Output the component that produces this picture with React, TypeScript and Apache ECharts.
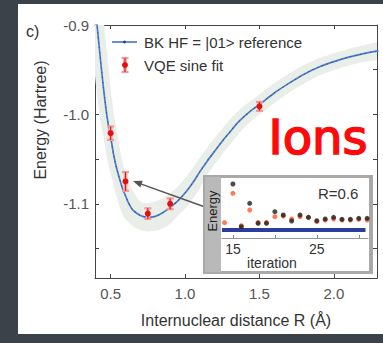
import React, { useEffect, useRef } from "react";
import * as echarts from "echarts";

// ---- main panel data ----
const curveR = [0.40, 0.41, 0.42, 0.44, 0.46, 0.48, 0.50, 0.52, 0.54, 0.56, 0.58, 0.60, 0.62, 0.65, 0.70, 0.75, 0.80, 0.85, 0.90, 0.95, 1.00, 1.05, 1.10, 1.15, 1.20, 1.25, 1.30, 1.35, 1.40, 1.45, 1.50, 1.60, 1.70, 1.80, 1.90, 2.00, 2.10, 2.20, 2.30];
const curveE = [-0.886, -0.902, -0.919, -0.952, -0.982, -1.007, -1.025, -1.045, -1.060, -1.072, -1.083, -1.091, -1.099, -1.107, -1.113, -1.115, -1.114, -1.110, -1.104, -1.097, -1.088, -1.077, -1.064, -1.052, -1.041, -1.030, -1.020, -1.010, -1.002, -0.995, -0.989, -0.976, -0.965, -0.955, -0.947, -0.941, -0.936, -0.932, -0.929];
const bandHalf = [0.008, 0.008, 0.008, 0.008, 0.008, 0.008, 0.008, 0.008, 0.008, 0.008, 0.009, 0.010, 0.011, 0.013, 0.015, 0.016, 0.016, 0.015, 0.013, 0.012, 0.011, 0.010, 0.009, 0.009, 0.009, 0.009, 0.009, 0.009, 0.009, 0.009, 0.009, 0.009, 0.009, 0.009, 0.009, 0.009, 0.009, 0.009, 0.009];

const vqeR = [0.5, 0.6, 0.75, 0.9, 1.5];
const vqeE = [-1.021, -1.075, -1.111, -1.100, -0.991];
const vqeErr = [0.0075, 0.0105, 0.006, 0.006, 0.005];

const xTickValues = [0.5, 1.0, 1.5, 2.0];
const yTickValues = [-0.9, -0.95, -1.0, -1.05, -1.1, -1.15];
const yLabelValues = [-0.9, -1.0, -1.1];

// ---- inset data ----
const iterations = [14, 15, 16, 17, 18, 19, 20, 21, 22, 23, 24, 25, 26, 27, 28, 29, 30, 31];
const insetOrange = [15.3, 44.7, 12.3, 28, 15.7, 15.7, 21.3, 22, 19, 21.3, 20.7, 16.3, 18, 19, 18, 18, 18.7, 18];
const insetBlack = [null, 54, 11.3, 34.7, 14.7, 14.7, 26.3, 23, 17, 23, 20.7, 17.3, 19, 20.7, 18.7, 18.7, 19.7, 19.7];
const insetRefSpan = [13.7, 30.8];
const insetRefLevel = 8;
const insetTickValues = [15, 20, 25, 30];
const insetLabelValues = [15, 25];

const FONT = "Liberation Sans, Arial, Helvetica, sans-serif";

export default function App() {
  const ref = useRef<HTMLDivElement>(null);
  useEffect(() => {
    if (!ref.current) return;
    const chart = echarts.init(ref.current, undefined, { renderer: "svg" });
    const curveData = curveR.map((r, i) => [r, curveE[i]]);

    const option: any = {
      animation: false,
      backgroundColor: "#3c4249",
      grid: [
        { left: 95, top: 25, width: 282, height: 253 },
        { left: 222, top: 178, width: 146, height: 60 },
      ],
      xAxis: [
        {
          type: "value", gridIndex: 0, position: "bottom", min: 0.395, max: 2.29,
          axisLine: { lineStyle: { color: "#444", width: 1 } },
          axisTick: { inside: true, length: 4, customValues: xTickValues, lineStyle: { color: "#444" } },
          axisLabel: { customValues: xTickValues, formatter: (v: number) => v.toFixed(1), fontSize: 15, color: "#555", fontFamily: FONT, margin: 8 },
          splitLine: { show: false },
          name: "Internuclear distance R (Å)", nameLocation: "middle", nameGap: 34,
          nameTextStyle: { fontSize: 16, color: "#333", fontFamily: FONT },
        },
        {
          type: "value", gridIndex: 0, position: "top", min: 0.395, max: 2.29,
          axisLine: { lineStyle: { color: "#444", width: 1 } },
          axisTick: { inside: true, length: 4, customValues: xTickValues, lineStyle: { color: "#444" } },
          axisLabel: { show: false }, splitLine: { show: false },
        },
        {
          type: "value", gridIndex: 1, min: 13.7, max: 31.1, z: 11,
          axisLine: { lineStyle: { color: "#999", width: 1 } },
          axisTick: { inside: true, length: 3, customValues: insetTickValues, lineStyle: { color: "#888" } },
          axisLabel: { customValues: insetLabelValues, fontSize: 14, color: "#333", fontFamily: FONT, margin: 4 },
          splitLine: { show: false },
        },
      ],
      yAxis: [
        {
          type: "value", gridIndex: 0, position: "left", min: -1.183, max: -0.9,
          axisLine: { lineStyle: { color: "#444", width: 1 } },
          axisTick: { inside: true, length: 4, customValues: yTickValues, lineStyle: { color: "#444" } },
          axisLabel: { customValues: yLabelValues, formatter: (v: number) => v.toFixed(1), fontSize: 15, color: "#555", fontFamily: FONT, margin: 6 },
          splitLine: { show: false },
        },
        {
          type: "value", gridIndex: 0, position: "right", min: -1.183, max: -0.9,
          axisLine: { lineStyle: { color: "#444", width: 1 } },
          axisTick: { inside: true, length: 4, customValues: yTickValues, lineStyle: { color: "#444" } },
          axisLabel: { show: false }, splitLine: { show: false },
        },
        { type: "value", gridIndex: 1, min: 0, max: 60, show: false },
      ],
      series: [
        {
          type: "custom", xAxisIndex: 0, yAxisIndex: 0, clip: true, z: 1, silent: true,
          data: curveData,
          renderItem: (params: any, api: any) => {
            if (params.dataIndex !== 0) return null;
            const pts = curveR.map((r, i) => api.coord([r, curveE[i]]));
            const n = pts.length;
            const upper: number[][] = [];
            const lower: number[][] = [];
            for (let i = 0; i < n; i++) {
              const p = pts[i];
              const a = pts[Math.max(i - 1, 0)];
              const b = pts[Math.min(i + 1, n - 1)];
              const tx = b[0] - a[0];
              const ty = b[1] - a[1];
              const len = Math.hypot(tx, ty) || 1;
              const nx = -ty / len;
              const ny = tx / len;
              const w = api.size([0, bandHalf[i]])[1];
              upper.push([p[0] + nx * w, p[1] + ny * w]);
              lower.push([p[0] - nx * w, p[1] - ny * w]);
            }
            return {
              type: "polygon",
              shape: { points: upper.concat(lower.reverse()), smooth: 0.2 },
              style: { fill: "#e9eee8" },
            };
          },
        },
        {
          type: "line", xAxisIndex: 0, yAxisIndex: 0, data: curveData, smooth: 0.3,
          showSymbol: false, clip: true, z: 3, silent: true,
          lineStyle: { color: "#4c7cc8", width: 1.7 },
        },
        {
          type: "line", xAxisIndex: 0, yAxisIndex: 0, data: curveData, smooth: 0.3,
          showSymbol: false, clip: true, z: 4, silent: true,
          lineStyle: { color: "#23427a", width: 1.1, type: [1, 4], opacity: 0.7 },
        },
        {
          type: "custom", xAxisIndex: 0, yAxisIndex: 0, z: 5, silent: true,
          data: vqeR.map((r, i) => [r, vqeE[i], vqeErr[i]]),
          encode: { x: 0, y: 1 },
          renderItem: (params: any, api: any) => {
            const x = api.value(0), y = api.value(1), e = api.value(2);
            const c = api.coord([x, y]);
            const hi = api.coord([x, y + e]);
            const lo = api.coord([x, y - e]);
            const cap = 3.5;
            return {
              type: "group",
              children: [
                { type: "line", shape: { x1: c[0], y1: hi[1], x2: c[0], y2: lo[1] }, style: { stroke: "#f6b4b4", lineWidth: 4 } },
                { type: "line", shape: { x1: c[0] - cap, y1: hi[1], x2: c[0] + cap, y2: hi[1] }, style: { stroke: "#f09a9a", lineWidth: 2.2 } },
                { type: "line", shape: { x1: c[0] - cap, y1: lo[1], x2: c[0] + cap, y2: lo[1] }, style: { stroke: "#f09a9a", lineWidth: 2.2 } },
                { type: "line", shape: { x1: c[0], y1: hi[1], x2: c[0], y2: lo[1] }, style: { stroke: "#d81c1c", lineWidth: 1.2 } },
                { type: "circle", shape: { cx: c[0], cy: c[1], r: 3 }, style: { fill: "#e41010" } },
              ],
            };
          },
        },
        {
          type: "line", xAxisIndex: 2, yAxisIndex: 2, z: 11, showSymbol: false, silent: true,
          data: insetRefSpan.map((it) => [it, insetRefLevel]),
          lineStyle: { color: "#2d3d9e", width: 4 },
        },
        {
          type: "scatter", xAxisIndex: 2, yAxisIndex: 2, z: 12, symbolSize: 5, silent: true,
          data: iterations.map((it, i) => [it, insetOrange[i]]),
          itemStyle: { color: "#ff5a2c" },
        },
        {
          type: "scatter", xAxisIndex: 2, yAxisIndex: 2, z: 13, symbolSize: 5, silent: true,
          data: iterations.map((it, i) => (insetBlack[i] == null ? null : [it, insetBlack[i]])).filter((d) => d),
          itemStyle: { color: "#1e1e1e" },
        },
      ],
      graphic: [
        { type: "rect", z: -10, shape: { x: 18, y: 4, width: 365, height: 330 }, style: { fill: "#ffffff" } },
        { type: "text", z: 2, x: 26, y: 31, style: { text: "c)", fontSize: 16, fill: "#333", fontFamily: FONT, verticalAlign: "middle" } },
        { type: "text", z: 2, x: 40, y: 120, rotation: Math.PI / 2, style: { text: "Energy (Hartree)", fontSize: 16, fill: "#333", fontFamily: FONT, align: "center", verticalAlign: "middle" } },
        // legend
        { type: "line", z: 6, shape: { x1: 112, y1: 42, x2: 137, y2: 42 }, style: { stroke: "#4c7cc8", lineWidth: 1.7 } },
        { type: "circle", z: 6, shape: { cx: 124.5, cy: 42, r: 1.4 }, style: { fill: "#23427a" } },
        { type: "text", z: 6, x: 144, y: 42, style: { text: "BK HF = |01> reference", fontSize: 15, fill: "#333", fontFamily: FONT, verticalAlign: "middle" } },
        { type: "line", z: 6, shape: { x1: 125, y1: 58, x2: 125, y2: 72 }, style: { stroke: "#f6b4b4", lineWidth: 4 } },
        { type: "line", z: 6, shape: { x1: 121.5, y1: 58, x2: 128.5, y2: 58 }, style: { stroke: "#f09a9a", lineWidth: 2.2 } },
        { type: "line", z: 6, shape: { x1: 121.5, y1: 72, x2: 128.5, y2: 72 }, style: { stroke: "#f09a9a", lineWidth: 2.2 } },
        { type: "line", z: 6, shape: { x1: 125, y1: 58, x2: 125, y2: 72 }, style: { stroke: "#d81c1c", lineWidth: 1.2 } },
        { type: "circle", z: 6, shape: { cx: 125, cy: 65, r: 3 }, style: { fill: "#e41010" } },
        { type: "text", z: 6, x: 144, y: 65, style: { text: "VQE sine fit", fontSize: 15, fill: "#333", fontFamily: FONT, verticalAlign: "middle" } },
        // big label
        { type: "text", z: 6, x: 318, y: 137, style: { text: "Ions", fontSize: 48, fill: "#ff0a0a", stroke: "#ff0a0a", lineWidth: 1.6, fontFamily: "DejaVu Sans, sans-serif", align: "center", verticalAlign: "middle" } },
        // arrow
        { type: "line", z: 9, shape: { x1: 205, y1: 207, x2: 140, y2: 183.6 }, style: { stroke: "#555", lineWidth: 1.4 } },
        { type: "polygon", z: 9, shape: { points: [[133, 181], [142.7, 180.8], [140.3, 187.4]] }, style: { fill: "#555" } },
        // inset frame
        { type: "rect", z: 10, shape: { x: 203, y: 175, width: 170, height: 99 }, style: { fill: "#a9a9a9" } },
        { type: "rect", z: 10, shape: { x: 205, y: 177, width: 16, height: 95 }, style: { fill: "#b9b9b9" } },
        { type: "rect", z: 10, shape: { x: 221, y: 178, width: 148, height: 93 }, style: { fill: "#ffffff" } },
        { type: "text", z: 13, x: 212, y: 211, rotation: Math.PI / 2, style: { text: "Energy", fontSize: 13, fill: "#222", fontFamily: FONT, align: "center", verticalAlign: "middle" } },
        { type: "text", z: 13, x: 272, y: 263, style: { text: "iteration", fontSize: 14, fill: "#333", fontFamily: FONT, align: "center", verticalAlign: "middle" } },
        { type: "text", z: 13, x: 318, y: 193, style: { text: "R=0.6", fontSize: 15, fill: "#333", fontFamily: FONT, verticalAlign: "middle" } },
      ],
    };
    chart.setOption(option);
    return () => chart.dispose();
  }, []);
  return <div ref={ref} style={{ position: "fixed", left: 0, top: 0, width: 383, height: 343 }} />;
}
